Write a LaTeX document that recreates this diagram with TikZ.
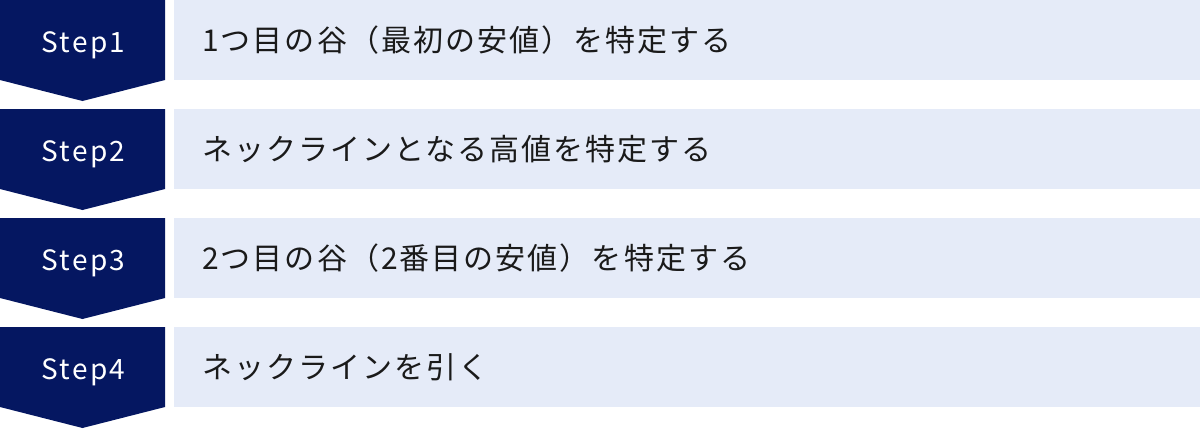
\documentclass[tikz,border=0pt]{standalone}
\usepackage{fontspec}
\newfontfamily\jpfont[LetterSpace=6.8]{Noto Sans CJK JP}
\newfontfamily\stepfont[LetterSpace=8]{Noto Sans CJK JP}
\definecolor{navy}{HTML}{051761}
\definecolor{lightbg}{HTML}{E5EBF8}
\definecolor{txt}{HTML}{1A1A1A}
\tikzset{
  stepshape/.style={fill=navy},
  barshape/.style={fill=lightbg},
  steplabel/.style={anchor=base, inner sep=0pt, text=white, font=\stepfont\fontsize{28}{28}\selectfont},
  desclabel/.style={anchor=west, inner sep=0pt, text=txt, font=\jpfont\fontsize{30}{30}\selectfont}
}
\begin{document}
\begin{tikzpicture}[x=1pt,y=-1pt]
\useasboundingbox (0,0) rectangle (1200,429);
\foreach \i/\s/\t in {0/1/{1つ目の谷（最初の安値）を特定する},1/2/{ネックラインとなる高値を特定する},2/3/{2つ目の谷（2番目の安値）を特定する},3/4/{ネックラインを引く}}{
  \pgfmathsetmacro{\yo}{109*\i}
  \begin{scope}[yshift=-\yo pt]
    \fill[stepshape] (0,0) -- (165,0) -- (165,80) -- (82.5,101) -- (0,80) -- cycle;
    \fill[barshape] (174,0) rectangle (1200,80);
    \node[steplabel] (step\s) at (83.5,52.3) {Step\s};
    \node[desclabel] (desc\s) at (202,40.5) {\t};
  \end{scope}
}
\end{tikzpicture}
\end{document}
